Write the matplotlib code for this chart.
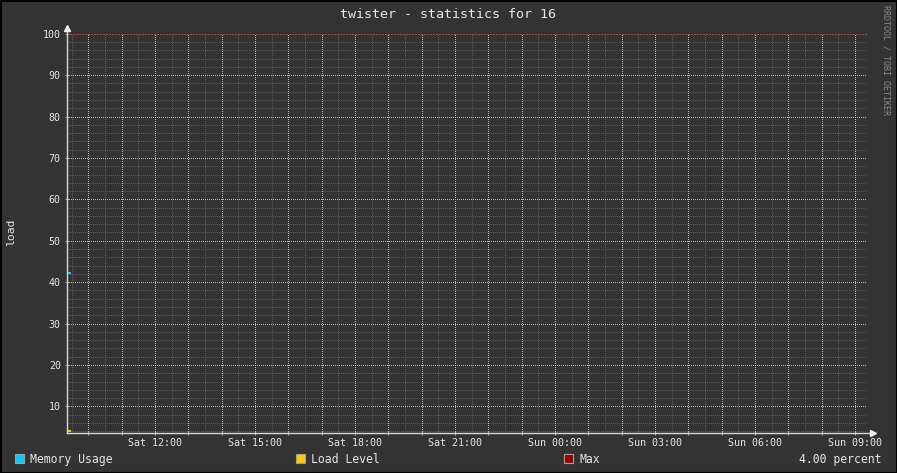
import matplotlib
matplotlib.use('Agg')
import matplotlib.pyplot as plt
from matplotlib.patches import Rectangle
from matplotlib.lines import Line2D

# time in hours since Sat 00:00
start_h = 9.35
end_h = 33.35
sample_hours = [9.35, 9.45]
memory_usage = [42.3, 42.3]
load_level = [4.0, 4.0]
max_value = 100
tick_hours = [12, 15, 18, 21, 24, 27, 30, 33]
tick_labels = ['Sat 12:00', 'Sat 15:00', 'Sat 18:00', 'Sat 21:00',
               'Sun 00:00', 'Sun 03:00', 'Sun 06:00', 'Sun 09:00']
legend_names = ['Memory Usage', 'Load Level', 'Max']
legend_colors = ['#00ccff', '#ffcc00', '#990000']
current_text = '4.00 percent'

bg = '#333333'
fg = '#e6e6e6'
mono = 'DejaVu Sans Mono'
px = 0.72  # one pixel in points

fig = plt.figure(figsize=(8.97, 4.73), dpi=100, facecolor=bg)

W, H = 897, 473
ax = fig.add_axes([66.7 / W, (H - 432.5) / H, 800 / W, (432.5 - 33.3) / H])
ax.set_facecolor(bg)
ax.set_xlim(start_h, end_h)
ax.set_ylim(3.7, 100.1)

# grid
dots = (0, (1, 2))
grid_kw = dict(lw=px, ls=dots, antialiased=False)
for h in range(10, 34):
    ax.axvline(h, color='#b8b8b8', zorder=1, **grid_kw)
    ax.axvline(h - 0.5, color='#5a5a5a', zorder=0.5, **grid_kw)
for v in range(10, 100, 10):
    ax.axhline(v, color='#b8b8b8', zorder=1, **grid_kw)
for v in range(4, 100, 2):
    if v % 10:
        ax.axhline(v, color='#5a5a5a', zorder=0.5, **grid_kw)

# data
ax.plot(sample_hours, memory_usage, color=legend_colors[0], lw=1.5, zorder=3)
ax.plot(sample_hours, load_level, color=legend_colors[1], lw=1.5, zorder=3)
ax.axhline(max_value, color='#dd3030', lw=px, ls=(0, (2, 2)), zorder=2,
           antialiased=False, clip_on=False)

# axes
for s in ax.spines.values():
    s.set_visible(False)
ax.add_line(Line2D([0, 1.008], [0, 0], transform=ax.transAxes,
                   color='#d8d8d8', lw=1, clip_on=False, zorder=4))
ax.add_line(Line2D([0, 0], [0, 1.012], transform=ax.transAxes,
                   color='#d8d8d8', lw=1, clip_on=False, zorder=4))
ax.plot([1.008], [0], marker='>', ms=4, color='#f0f0f0', transform=ax.transAxes,
        clip_on=False, zorder=5)
ax.plot([0], [1.014], marker='^', ms=4, color='#f0f0f0', transform=ax.transAxes,
        clip_on=False, zorder=5)

major_x = list(range(10, 34))
ax.set_xticks(major_x)
ax.set_xticklabels([tick_labels[tick_hours.index(h)] if h in tick_hours else ''
                    for h in major_x])
ax.set_yticks(range(10, 101, 10))
ax.tick_params(axis='both', colors='#aaaaaa', labelcolor=fg, length=2.5,
               direction='inout', width=0.8, labelsize=7.2)
ax.tick_params(axis='x', pad=3)
ax.tick_params(axis='y', pad=3)
for lab in ax.get_xticklabels() + ax.get_yticklabels():
    lab.set_family(mono)

# texts
fig.text(448 / W, 1 - 14 / H, 'twister - statistics for 16', ha='center',
         va='center', color=fg, family=mono, fontsize=9.6)
fig.text(11 / W, 1 - 232 / H, 'load', rotation=90, ha='center', va='center',
         color=fg, family=mono, fontsize=8.2)
fig.text(886 / W, 1 - 60 / H, 'RRDTOOL / TOBI OETIKER', rotation=270,
         ha='center', va='center', color='#8a8a8a', family=mono, fontsize=6)

# legend
legend_x = [15, 296, 564]
for x, name, col in zip(legend_x, legend_names, legend_colors):
    fig.patches.append(Rectangle((x / W, 1 - 463 / H), 9 / W, 9 / H,
                                 transform=fig.transFigure, facecolor=col,
                                 edgecolor='#a0a0a0', lw=0.8))
    fig.text((x + 15) / W, 1 - 459 / H, name, ha='left', va='center',
             color=fg, family=mono, fontsize=8.3)
fig.text(881 / W, 1 - 459 / H, current_text, ha='right', va='center',
         color=fg, family=mono, fontsize=8.3)

# black frame
fig.patches.append(Rectangle((0, 0), 1, 1, transform=fig.transFigure,
                             facecolor='none', edgecolor='#000000', lw=2.2))

fig.savefig('out.png', dpi=100, facecolor=bg)
